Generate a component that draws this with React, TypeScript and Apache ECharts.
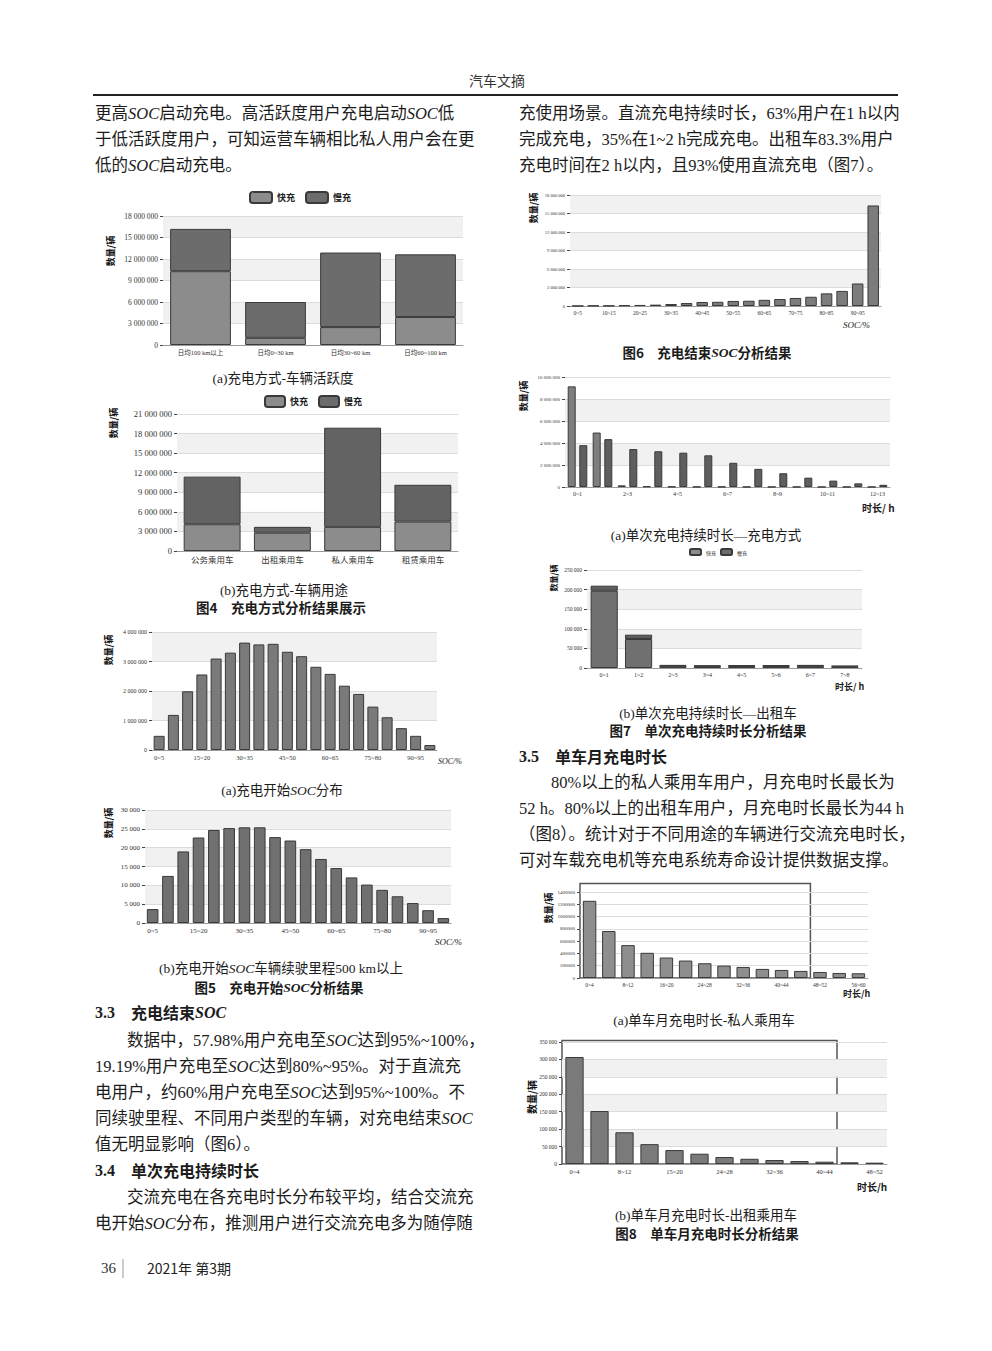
import React, { useEffect, useRef } from 'react';
import * as echarts from 'echarts';

// ---------- data ----------
const activityCats = ['日均100 km以上', '日均0~30 km', '日均30~60 km', '日均60~100 km'];
const activityFast = [10300000, 1000000, 2500000, 3900000];
const activitySlow = [5900000, 5000000, 10400000, 8750000];

const usageCats = ['公务乘用车', '出租乘用车', '私人乘用车', '租赁乘用车'];
const usageFast = [4100000, 2800000, 3700000, 4500000];
const usageSlow = [7300000, 900000, 15200000, 5650000];

const socCats = ['0~5', '5~10', '10~15', '15~20', '20~25', '25~30', '30~35', '35~40', '40~45', '45~50',
  '50~55', '55~60', '60~65', '65~70', '70~75', '75~80', '80~85', '85~90', '90~95', '95~100'];
const socStartAll = [480000, 1190000, 1990000, 2560000, 3100000, 3300000, 3640000, 3580000, 3600000, 3330000,
  3180000, 2820000, 2580000, 2180000, 1900000, 1470000, 1110000, 740000, 480000, 170000];
const socStart500 = [3700, 12500, 19000, 22700, 24700, 25200, 25400, 25400, 22800, 21900,
  19600, 17000, 14600, 12100, 10200, 8800, 7100, 5300, 3400, 1300];
const socEnd = [10000, 50000, 60000, 100000, 170000, 220000, 320000, 480000, 650000, 680000,
  820000, 850000, 1000000, 1130000, 1300000, 1500000, 2050000, 2450000, 3650000, 16300000];

const durCats = ['0~1', '1~2', '2~3', '3~4', '4~5', '5~6', '6~7', '7~8', '8~9', '9~10', '10~11', '11~12', '12~13'];
const durFast = [9150000, 4950000, 150000, 60000, 30000, 20000, 20000, 10000, 10000, 10000, 5000, 5000, 5000];
const durSlow = [3800000, 4350000, 3450000, 3250000, 3120000, 2880000, 2200000, 1650000, 1250000, 850000, 580000, 330000, 200000];

const taxiDurCats = ['0~1', '1~2', '2~3', '3~4', '4~5', '5~6', '6~7', '7~8'];
const taxiDurFast = [197000, 74000, 5500, 4800, 5200, 5200, 5500, 4000];
const taxiDurSlow = [13000, 11000, 2000, 1700, 1800, 1800, 2000, 1500];

const monthPrivCats = ['0~4', '4~8', '8~12', '12~16', '16~20', '20~24', '24~28', '28~32', '32~36', '36~40',
  '40~44', '44~48', '48~52', '52~56', '56~60'];
const monthPriv = [1257000, 765000, 535000, 410000, 333000, 284000, 240000, 202000, 180000, 148000,
  131000, 115000, 98000, 82000, 77000];
const monthTaxiCats = ['0~4', '4~8', '8~12', '12~16', '15~20', '20~24', '24~28', '28~32', '32~36', '36~40',
  '40~44', '44~48', '48~52'];
const monthTaxi = [307000, 152000, 91000, 57000, 40000, 29500, 20000, 15000, 11400, 8500, 6600, 4800, 3800];

// axis ranges [max, interval]
const axis4a = [18000000, 3000000];
const axis4b = [21000000, 3000000];
const axis5a = [4000000, 1000000];
const axis5b = [30000, 5000];
const axis6 = [18000000, 3000000];
const axis7a = [10000000, 2000000];
const axis7b = [250000, 50000];
const axis8a = [1400000, 200000];
const axis8b = [350000, 50000];
// highlighted frames in Fig.8: [number of categories covered, top value]
const frame8a = [12, 1540000];
const frame8b = [11, 354000];

// ---------- styling ----------
const SERIF = "'Liberation Serif','Noto Sans CJK SC',serif";
const SANS = "'Noto Sans CJK SC','Liberation Sans',sans-serif";
const INK = '#1c1c1c';
const BODY = 16.5;

const spaced = (v: number) => String(v).replace(/\B(?=(\d{3})+(?!\d))/g, ' ');
const plain = (v: number) => String(v);

type Box = { left: number; top: number; width: number; height: number };
const B4a: Box = { left: 163, top: 216, width: 300, height: 129 };
const B4b: Box = { left: 177, top: 414, width: 281, height: 137 };
const B5a: Box = { left: 152, top: 632, width: 285, height: 118 };
const B5b: Box = { left: 145, top: 810, width: 306, height: 113 };
const B6: Box = { left: 570, top: 195, width: 311, height: 111 };
const B7a: Box = { left: 565, top: 377, width: 325, height: 110 };
const B7b: Box = { left: 587, top: 570, width: 275, height: 98 };
const B8a: Box = { left: 580, top: 892, width: 288, height: 86 };
const B8b: Box = { left: 562, top: 1042, width: 325, height: 122 };

function richFor(size: number) {
  return {
    i: { fontStyle: 'italic', fontFamily: "'Liberation Serif'", fontSize: size, fill: INK },
    bi: { fontStyle: 'italic', fontWeight: 'bold', fontFamily: "'Liberation Serif'", fontSize: size, fill: INK },
    b: { fontWeight: 'bold', fontFamily: "'Liberation Serif'", fontSize: size, fill: INK },
  };
}

function txt(x: number, y: number, text: string, o: any = {}) {
  const size = o.size ?? BODY;
  return {
    type: 'text',
    x,
    y,
    rotation: o.rot ?? 0,
    silent: true,
    style: {
      text,
      fontSize: size,
      fontFamily: o.family ?? SERIF,
      fontWeight: o.weight ?? 'normal',
      fontStyle: o.fstyle ?? 'normal',
      fill: o.color ?? INK,
      align: o.align ?? 'left',
      verticalAlign: 'middle',
      rich: richFor(size),
    },
  };
}

function buildOption() {
  const grids: any[] = [];
  const xAxes: any[] = [];
  const yAxes: any[] = [];
  const series: any[] = [];

  function panel(box: Box, cats: string[], range: number[], o: any = {}) {
    const gi = grids.length;
    grids.push({ left: box.left, top: box.top, width: box.width, height: box.height, containLabel: false, outerBoundsMode: 'none' });
    xAxes.push({
      type: 'category', gridIndex: gi, data: cats,
      axisLine: { lineStyle: { color: '#9a9a9a', width: 1 } },
      axisTick: { alignWithLabel: true, length: 3, lineStyle: { color: '#555' } },
      axisLabel: { interval: o.labelInterval ?? 0, fontSize: o.xFont ?? 7, fontFamily: o.xFamily ?? SERIF, color: '#333', margin: 4 },
      splitLine: { show: false },
    });
    yAxes.push({
      type: 'value', gridIndex: gi, min: 0, max: range[0], interval: range[1],
      axisLine: { show: false },
      axisTick: { show: true, length: 3, lineStyle: { color: '#444' } },
      axisLabel: { fontSize: o.yFont ?? 7, fontFamily: SERIF, color: '#333', margin: 5, formatter: o.yFmt ?? spaced },
      splitLine: { lineStyle: { color: '#dcdcdc', width: 1 } },
      splitArea: { show: o.bands ?? true, areaStyle: { color: ['rgba(255,255,255,0)', '#f1f1f1'] } },
    });
    return gi;
  }
  function bar(gi: number, data: number[], color: string, extra: any = {}) {
    series.push({
      type: 'bar', xAxisIndex: gi, yAxisIndex: gi, data,
      itemStyle: { color, borderColor: '#3a3a3a', borderWidth: 1 },
      emphasis: { disabled: true },
      ...extra,
    });
  }

  // Fig 4a
  const g4a = panel(B4a, activityCats, axis4a, { yFont: 7.5, xFont: 6.5 });
  bar(g4a, activityFast, '#8c8c8c', { name: '快充', stack: 'a', barWidth: '81%' });
  bar(g4a, activitySlow, '#6c6c6c', { name: '慢充', stack: 'a', barWidth: '81%' });
  // Fig 4b
  const g4b = panel(B4b, usageCats, axis4b, { xFont: 8.5, xFamily: SANS, yFont: 8.5 });
  bar(g4b, usageFast, '#8c8c8c', { name: '快充', stack: 'b', barWidth: '81%' });
  bar(g4b, usageSlow, '#636363', { name: '慢充', stack: 'b', barWidth: '81%' });
  // Fig 5a
  const g5a = panel(B5a, socCats, axis5a, { labelInterval: 2, yFont: 6, xFont: 6.5 });
  bar(g5a, socStartAll, '#7a7a7a', { barWidth: '77%' });
  // Fig 5b
  const g5b = panel(B5b, socCats, axis5b, { labelInterval: 2, yFont: 7, xFont: 7 });
  bar(g5b, socStart500, '#707070', { barWidth: '76%' });
  // Fig 6
  const g6 = panel(B6, socCats, axis6, { labelInterval: 1, yFont: 4.5, xFont: 5.5 });
  bar(g6, socEnd, '#7c7c7c', { barWidth: '74%' });
  // Fig 7a
  const g7a = panel(B7a, durCats, axis7a, { labelInterval: 1, yFont: 5, xFont: 6 });
  bar(g7a, durFast, '#7e7e7e', { name: '快充', barWidth: 8, barGap: '45%' });
  bar(g7a, durSlow, '#5e5e5e', { name: '慢充', barWidth: 8, barGap: '45%' });
  // Fig 7b
  const g7b = panel(B7b, taxiDurCats, axis7b, { yFont: 5.5, xFont: 6 });
  bar(g7b, taxiDurFast, '#707070', { name: '快充', stack: 'c', barWidth: '79%' });
  bar(g7b, taxiDurSlow, '#5e5e5e', { name: '慢充', stack: 'c', barWidth: '79%' });
  // Fig 8a
  const g8a = panel(B8a, monthPrivCats, axis8a, { labelInterval: 1, yFont: 5, yFmt: plain, bands: false, xFont: 5.5 });
  bar(g8a, monthPriv, '#8e8e8e', { barWidth: '70%' });
  // Fig 8b
  const g8b = panel(B8b, monthTaxiCats, axis8b, { labelInterval: 1, yFont: 5.5, xFont: 6.5 });
  bar(g8b, monthTaxi, '#7a7a7a', { barWidth: '73%' });

  const frameRect = (box: Box, cats: string[], fr: number[], max: number) => {
    const w = (box.width * fr[0]) / cats.length;
    const yTop = box.top + box.height - (box.height * fr[1]) / max;
    return {
      type: 'rect', silent: true,
      shape: { x: box.left, y: yTop, width: w, height: box.top + box.height - yTop },
      style: { fill: 'none', stroke: '#555', lineWidth: 1.5 },
    };
  };

  const yName = (x: number, y: number, size = 9) =>
    txt(x, y, '数量/辆', { rot: Math.PI / 2, align: 'center', family: SANS, weight: 'bold', size, color: '#111' });

  const graphic: any[] = [
    // header
    txt(497, 80, '汽车文摘', { align: 'center', family: SANS, size: 14, color: '#333' }),
    { type: 'line', silent: true, shape: { x1: 93, y1: 95, x2: 898, y2: 95 }, style: { stroke: '#222', lineWidth: 2 } },

    // left top text
    txt(95, 113, '更高{i|SOC}启动充电。高活跃度用户充电启动{i|SOC}低'),
    txt(95, 139, '于低活跃度用户，可知运营车辆相比私人用户会在更'),
    txt(95, 165, '低的{i|SOC}启动充电。'),

    // right top text
    txt(519, 113, '充使用场景。直流充电持续时长，63%用户在1 h以内'),
    txt(519, 139, '完成充电，35%在1~2 h完成充电。出租车83.3%用户'),
    txt(519, 165, '充电时间在2 h以内，且93%使用直流充电（图7）。'),

    // axis names
    yName(110, 251),
    yName(113, 423),
    yName(108, 650),
    yName(108, 823),
    yName(533, 208),
    yName(523, 396),
    yName(553, 578, 8),
    yName(548, 908),
    yName(531, 1097, 10),
    txt(438, 761, 'SOC/%', { fstyle: 'italic', size: 8 }),
    txt(435, 942, 'SOC/%', { fstyle: 'italic', size: 9 }),
    txt(843, 325, 'SOC/%', { fstyle: 'italic', size: 9 }),
    txt(862, 507, '时长/ h', { family: SANS, weight: 'bold', size: 10 }),
    txt(835, 686, '时长/ h', { family: SANS, weight: 'bold', size: 9 }),
    txt(843, 993, '时长/h', { family: SANS, weight: 'bold', size: 9 }),
    txt(857, 1186, '时长/h', { family: SANS, weight: 'bold', size: 10 }),

    // captions
    txt(283, 378, '(a)充电方式-车辆活跃度', { align: 'center', size: 13.5 }),
    txt(284, 590, '(b)充电方式-车辆用途', { align: 'center', size: 13.5 }),
    txt(281, 607, '图4　充电方式分析结果展示', { align: 'center', size: 13.5, family: SANS, weight: 'bold' }),
    txt(282, 790, '(a)充电开始{i|SOC}分布', { align: 'center', size: 13.5 }),
    txt(281, 968, '(b)充电开始{i|SOC}车辆续驶里程500 km以上', { align: 'center', size: 13.5 }),
    txt(279, 987, '图5　充电开始{bi|SOC}分析结果', { align: 'center', size: 13.5, family: SANS, weight: 'bold' }),
    txt(707, 352, '图6　充电结束{bi|SOC}分析结果', { align: 'center', size: 13.5, family: SANS, weight: 'bold' }),
    txt(706, 535, '(a)单次充电持续时长—充电方式', { align: 'center', size: 13.5 }),
    txt(708, 713, '(b)单次充电持续时长—出租车', { align: 'center', size: 13.5 }),
    txt(708, 730, '图7　单次充电持续时长分析结果', { align: 'center', size: 13.5, family: SANS, weight: 'bold' }),
    txt(704, 1020, '(a)单车月充电时长-私人乘用车', { align: 'center', size: 13.5 }),
    txt(706, 1215, '(b)单车月充电时长-出租乘用车', { align: 'center', size: 13.5 }),
    txt(707, 1233, '图8　单车月充电时长分析结果', { align: 'center', size: 13.5, family: SANS, weight: 'bold' }),

    // section 3.5
    txt(519, 756, '{b|3.5}　单车月充电时长', { family: SANS, weight: 'bold', size: 16 }),
    txt(551, 782, '80%以上的私人乘用车用户，月充电时长最长为'),
    txt(519, 808, '52 h。80%以上的出租车用户，月充电时长最长为44 h'),
    txt(519, 834, '（图8）。统计对于不同用途的车辆进行交流充电时长，'),
    txt(519, 860, '可对车载充电机等充电系统寿命设计提供数据支撑。'),

    // section 3.3 / 3.4
    txt(95, 1012, '{b|3.3}　充电结束{bi|SOC}', { family: SANS, weight: 'bold', size: 16 }),
    txt(127, 1040, '数据中，57.98%用户充电至{i|SOC}达到95%~100%，'),
    txt(95, 1066, '19.19%用户充电至{i|SOC}达到80%~95%。对于直流充'),
    txt(95, 1092, '电用户，约60%用户充电至{i|SOC}达到95%~100%。不'),
    txt(95, 1118, '同续驶里程、不同用户类型的车辆，对充电结束{i|SOC}'),
    txt(95, 1144, '值无明显影响（图6）。'),
    txt(95, 1170, '{b|3.4}　单次充电持续时长', { family: SANS, weight: 'bold', size: 16 }),
    txt(127, 1197, '交流充电在各充电时长分布较平均，结合交流充'),
    txt(95, 1223, '电开始{i|SOC}分布，推测用户进行交流充电多为随停随'),

    // footer
    txt(101, 1268, '36', { size: 15, color: '#333' }),
    { type: 'line', silent: true, shape: { x1: 123, y1: 1259, x2: 123, y2: 1278 }, style: { stroke: '#999', lineWidth: 1 } },
    txt(147, 1268, '2021年 第3期', { size: 14, family: SANS, color: '#222' }),

    frameRect(B8a, monthPrivCats, frame8a, axis8a[0]),
    frameRect(B8b, monthTaxiCats, frame8b, axis8b[0]),
  ];

  const legendBase = {
    orient: 'horizontal', icon: 'roundRect', selectedMode: false,
    data: ['快充', '慢充'],
  };

  return {
    animation: false,
    backgroundColor: '#ffffff',
    grid: grids,
    xAxis: xAxes,
    yAxis: yAxes,
    series,
    legend: [
      { ...legendBase, left: 244, top: 186, itemWidth: 22, itemHeight: 11, itemGap: 10, padding: 5, textStyle: { fontSize: 9, fontWeight: 'bold', fontFamily: SANS, color: '#222' } },
      { ...legendBase, left: 259, top: 390, itemWidth: 20, itemHeight: 11, itemGap: 10, padding: 5, textStyle: { fontSize: 9, fontWeight: 'bold', fontFamily: SANS, color: '#222' } },
      { ...legendBase, left: 686, top: 545, itemWidth: 11, itemHeight: 6, itemGap: 4, padding: 3, textStyle: { fontSize: 5, fontFamily: SANS, color: '#222' } },
    ],
    graphic,
  };
}

export default function App() {
  const ref = useRef<HTMLDivElement>(null);
  useEffect(() => {
    const chart = echarts.init(ref.current as HTMLDivElement, null, { renderer: 'svg' });
    chart.setOption(buildOption() as any);
    return () => chart.dispose();
  }, []);
  return (
    <div
      ref={ref}
      style={{ position: 'absolute', left: 0, top: 0, width: 992, height: 1351, background: '#fff' }}
    />
  );
}
